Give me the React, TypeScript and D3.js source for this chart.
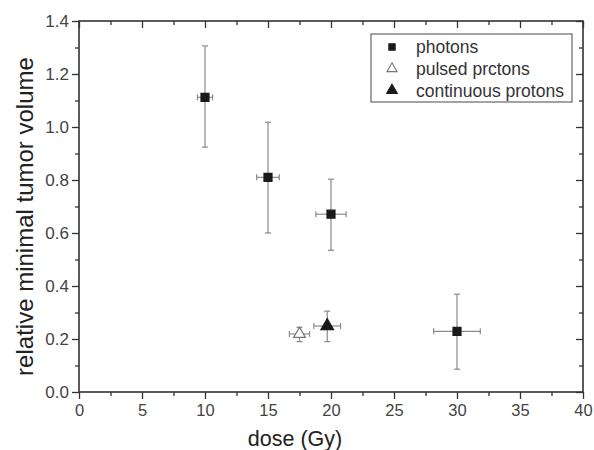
import { axisBottom, axisLeft, axisRight, axisTop, range, scaleLinear, select, symbol, symbolSquare, symbolTriangle } from "d3";
import { useEffect, useRef } from "react";

type Point = { dose: number; doseErr: number; volume: number; low: number; high: number };

const photons: Point[] = [
  { dose: 10, doseErr: 0.6, volume: 1.112, low: 0.924, high: 1.306 },
  { dose: 15, doseErr: 0.9, volume: 0.81, low: 0.6, high: 1.018 },
  { dose: 20, doseErr: 1.2, volume: 0.671, low: 0.535, high: 0.803 },
  { dose: 30, doseErr: 1.85, volume: 0.229, low: 0.086, high: 0.369 },
];
const pulsedProtons: Point[] = [{ dose: 17.5, doseErr: 0.8, volume: 0.219, low: 0.19, high: 0.244 }];
const continuousProtons: Point[] = [{ dose: 19.7, doseErr: 1.06, volume: 0.249, low: 0.19, high: 0.305 }];

const legendLabels = ["photons", "pulsed prctons", "continuous protons"];
const xTicks = [0, 5, 10, 15, 20, 25, 30, 35, 40];
const yTicks = [0, 0.2, 0.4, 0.6, 0.8, 1.0, 1.2, 1.4];

const W = 594;
const H = 450;
const margin = { top: 21, right: 11, bottom: 58, left: 79 };
const font = "'Liberation Sans', Arial, sans-serif";
const ink = "#333";
const errGrey = "#8a8a8a";

const App = () => {
  const ref = useRef<SVGSVGElement>(null);

  useEffect(() => {
    if (!ref.current) return;
    const svg = select(ref.current);
    svg.selectAll("*").remove();

    const iw = W - margin.left - margin.right;
    const ih = H - margin.top - margin.bottom;
    const x = scaleLinear().domain([0, 40]).range([0, iw]);
    const y = scaleLinear().domain([0, 1.4]).range([ih, 0]);

    const g = svg.append("g").attr("transform", `translate(${margin.left},${margin.top})`);

    const minorX = range(0, 41, 2.5).filter((d) => d % 5 !== 0);
    const minorY = range(1, 14, 2).map((d) => d / 10);

    const style = (sel: any, size = 16) => {
      sel.select(".domain").remove();
      sel.selectAll("line").attr("stroke", ink).attr("stroke-width", 1.3);
      sel.selectAll("text").attr("fill", "#444").attr("font-family", font).attr("font-size", size);
    };

    // minor ticks
    g.append("g").attr("transform", `translate(0,${ih})`)
      .call(axisBottom(x).tickValues(minorX).tickSize(4).tickFormat(() => "")).call(style);
    g.append("g").call(axisTop(x).tickValues(minorX).tickSize(-4).tickFormat(() => "")).call(style);
    g.append("g").call(axisLeft(y).tickValues(minorY).tickSize(4).tickFormat(() => "")).call(style);
    g.append("g").attr("transform", `translate(${iw},0)`)
      .call(axisRight(y).tickValues(minorY).tickSize(-4).tickFormat(() => "")).call(style);

    // major ticks
    g.append("g").attr("transform", `translate(0,${ih})`)
      .call(axisBottom(x).tickValues(xTicks).tickSize(7).tickPadding(5).tickFormat((d) => String(d)))
      .call((s: any) => style(s, 16.5));
    g.append("g").call(axisTop(x).tickValues(xTicks).tickSize(-7).tickFormat(() => "")).call(style);
    g.append("g")
      .call(axisLeft(y).tickValues(yTicks).tickSize(7).tickPadding(3).tickFormat((d) => (+d).toFixed(1)))
      .call((s: any) => style(s, 17));
    g.append("g").attr("transform", `translate(${iw},0)`)
      .call(axisRight(y).tickValues(yTicks).tickSize(-7).tickFormat(() => "")).call(style);

    g.append("rect").attr("width", iw).attr("height", ih)
      .attr("fill", "none").attr("stroke", ink).attr("stroke-width", 1.6);

    const drawSeries = (data: Point[], type: any, size: number, fill: string, stroke: string) => {
      const cap = 3;
      data.forEach((d) => {
        const e = g.append("g").attr("stroke", errGrey).attr("stroke-width", 1.2);
        const cx = x(d.dose);
        const cy = y(d.volume);
        e.append("line").attr("x1", cx).attr("x2", cx).attr("y1", y(d.high)).attr("y2", y(d.low));
        e.append("line").attr("x1", cx - cap).attr("x2", cx + cap).attr("y1", y(d.high)).attr("y2", y(d.high));
        e.append("line").attr("x1", cx - cap).attr("x2", cx + cap).attr("y1", y(d.low)).attr("y2", y(d.low));
        const xl = x(d.dose - d.doseErr);
        const xr = x(d.dose + d.doseErr);
        e.append("line").attr("x1", xl).attr("x2", xr).attr("y1", cy).attr("y2", cy);
        e.append("line").attr("x1", xl).attr("x2", xl).attr("y1", cy - cap).attr("y2", cy + cap);
        e.append("line").attr("x1", xr).attr("x2", xr).attr("y1", cy - cap).attr("y2", cy + cap);
        g.append("path").attr("d", symbol(type, size)())
          .attr("transform", `translate(${cx},${cy})`)
          .attr("fill", fill).attr("stroke", stroke).attr("stroke-width", 1.2);
      });
    };

    drawSeries(photons, symbolSquare, 64, "#1a1a1a", "#1a1a1a");
    drawSeries(pulsedProtons, symbolTriangle, 60, "#fff", "#777");
    drawSeries(continuousProtons, symbolTriangle, 70, "#1a1a1a", "#1a1a1a");

    // legend
    const lg = svg.append("g").attr("transform", "translate(371,34)");
    lg.append("rect").attr("width", 201).attr("height", 68)
      .attr("fill", "#fff").attr("stroke", "#666").attr("stroke-width", 1.2);
    const legendSymbols = [
      { type: symbolSquare, size: 40, fill: "#1a1a1a", stroke: "#1a1a1a" },
      { type: symbolTriangle, size: 45, fill: "#fff", stroke: "#777" },
      { type: symbolTriangle, size: 50, fill: "#1a1a1a", stroke: "#1a1a1a" },
    ];
    legendLabels.forEach((label, i) => {
      const ry = 13 + i * 21.7;
      const s = legendSymbols[i];
      lg.append("path").attr("d", symbol(s.type, s.size)())
        .attr("transform", `translate(21,${ry})`)
        .attr("fill", s.fill).attr("stroke", s.stroke).attr("stroke-width", 1.1);
      lg.append("text").attr("x", 45).attr("y", ry).attr("dy", "0.35em")
        .attr("font-family", font).attr("font-size", 17.5).attr("fill", "#333").text(label);
    });

    // axis titles
    svg.append("text").attr("x", 295).attr("y", 446)
      .attr("text-anchor", "middle").attr("font-family", font).attr("font-size", 21.5).attr("fill", "#222")
      .text("dose (Gy)");
    svg.append("text").attr("transform", "translate(32.5,216.5) rotate(-90)")
      .attr("text-anchor", "middle").attr("font-family", font).attr("font-size", 24).attr("fill", "#222")
      .text("relative minimal tumor volume");
  }, []);

  return (
    <div style={{ position: "absolute", left: 0, top: 0 }}>
      <svg ref={ref} width={W} height={H} style={{ display: "block", background: "#fff" }} />
    </div>
  );
};

export default App;
